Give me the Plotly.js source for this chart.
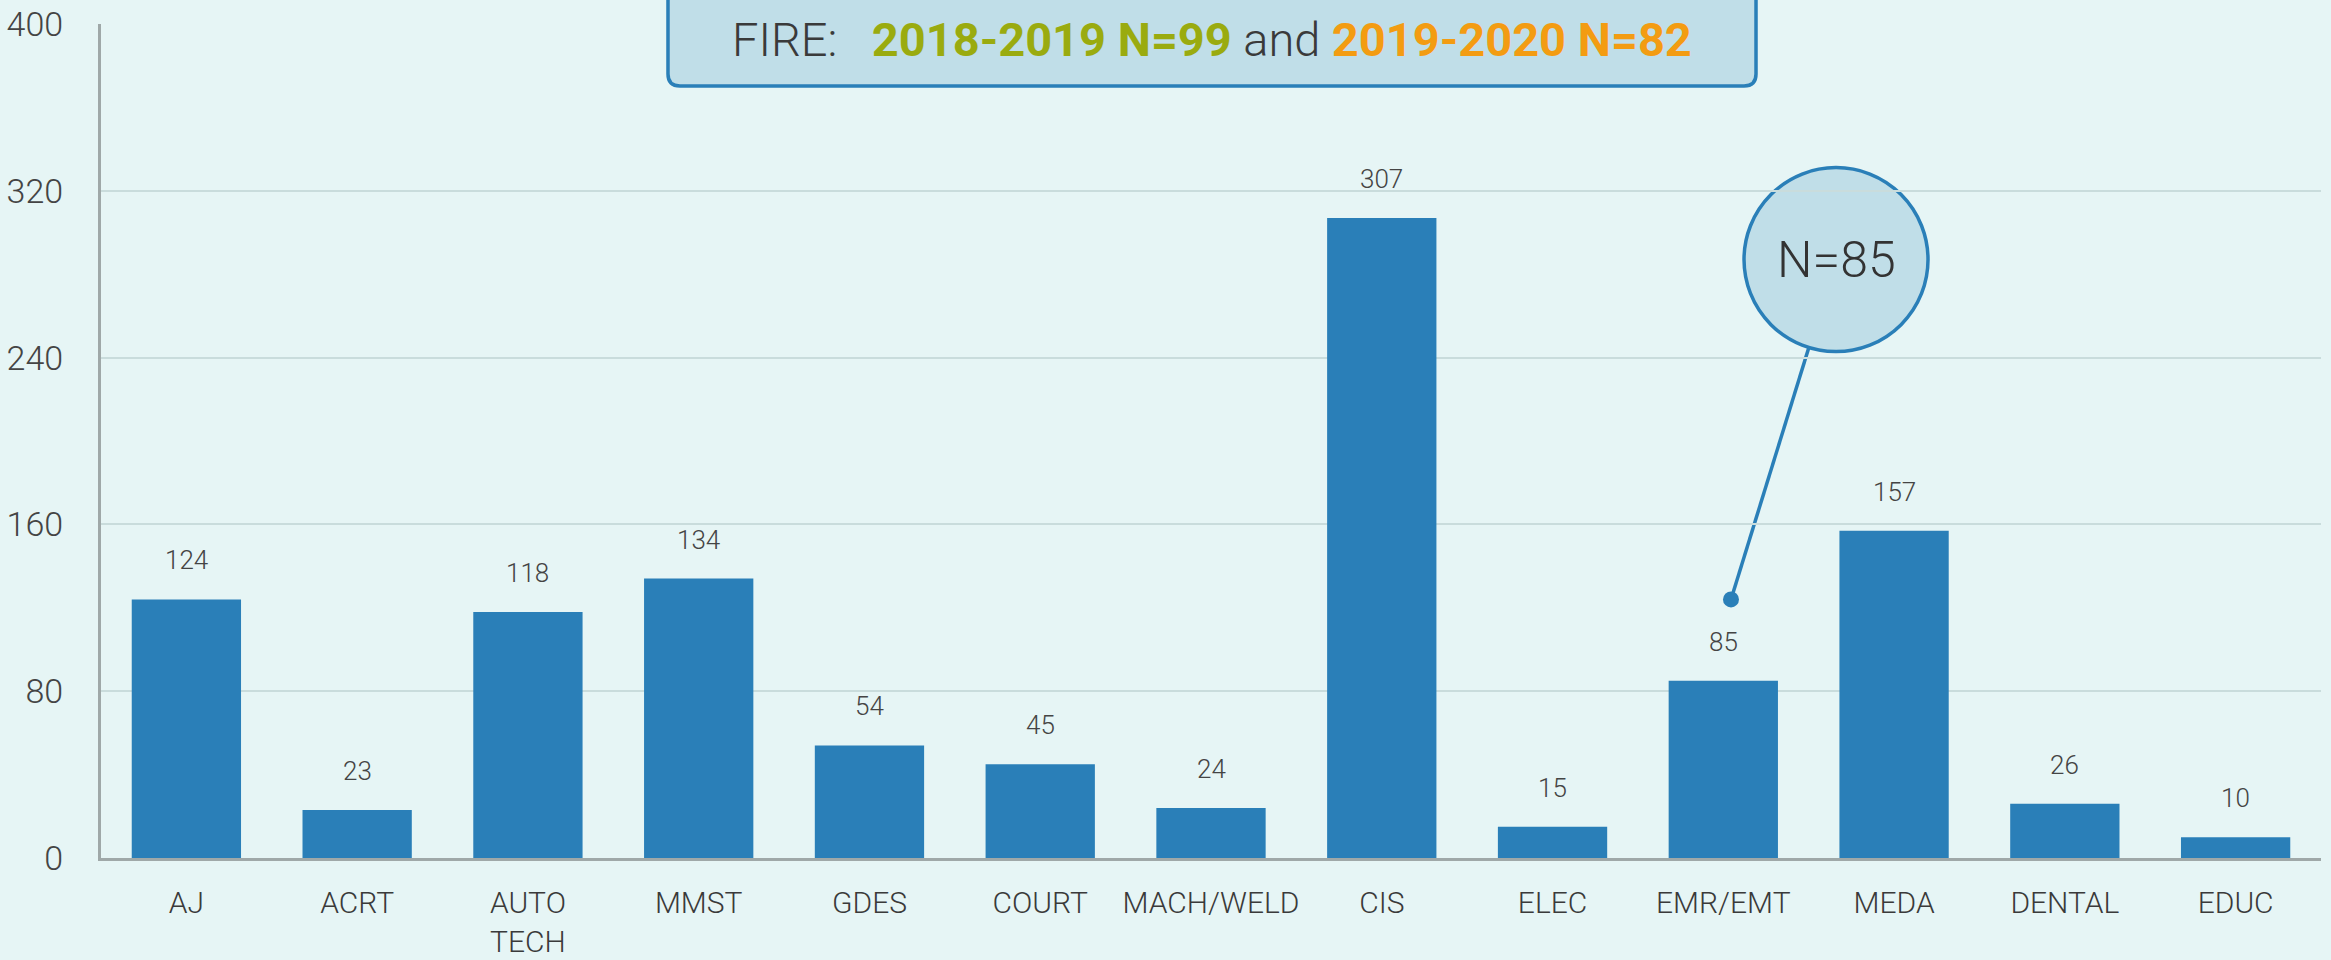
<!DOCTYPE html>
<html>
<head>
<meta charset="utf-8">
<script src="https://cdn.plot.ly/plotly-3.0.1.min.js"></script>
<style>html,body{margin:0;padding:0;background:#e6f5f5;}#chart{width:2331px;height:960px;}</style>
</head>
<body>
<div id="chart"></div>
<script>
// ---- data ----
const categories = ["AJ", "ACRT", "AUTO<br>TECH", "MMST", "GDES", "COURT", "MACH/WELD", "CIS", "ELEC", "EMR/EMT", "MEDA", "DENTAL", "EDUC"];
const values = [124, 23, 118, 134, 54, 45, 24, 307, 15, 85, 157, 26, 10];
const yTicks = [0, 80, 160, 240, 320, 400];
const titlePrefix = "FIRE:";
const titleYear1 = "2018-2019 N=99";
const titleYear2 = "2019-2020 N=82";
const calloutText = "N=85";
const calloutCategoryIndex = 9;     // EMR/EMT
const calloutDotValue = 124;
const calloutCircleValue = 287;

// ---- style ----
const bg = "#e6f5f5";
const barColor = "#2a7fb8";
const boxFill = "#c0dee8";
const textDark = "#3a3a3a";

const annotations = categories.map((c, i) => ({
  x: c, y: values[i], xref: "x", yref: "y",
  text: String(values[i]), showarrow: false,
  yanchor: "bottom", yshift: 22,
  font: {family: "Roboto", size: 26, color: "#444444", weight: 300}
}));

annotations.push({
  xref: "paper", yref: "paper", x: 0.5005, y: 0.981,
  xanchor: "center", yanchor: "middle", showarrow: false,
  text: titlePrefix + "&nbsp;&nbsp; <b><span style='color:#9aab0f'>" + titleYear1 +
        "</span></b> and <b><span style='color:#f39c12'>" + titleYear2 + "</span></b>",
  font: {family: "Roboto", size: 47, color: textDark, weight: 300}
});

const cx = calloutCategoryIndex + 0.66;
annotations.push({
  xref: "x", yref: "y", x: cx, y: calloutCircleValue,
  xanchor: "center", yanchor: "middle", showarrow: false,
  text: calloutText,
  font: {family: "Roboto", size: 50, color: "#333333", weight: 300}
});

// title box (rounded, top edge out of view)
const bx0 = 0.2554, bx1 = 0.7455, by0 = 0.9257, by1 = 1.05, rx = 0.0054, ry = 0.0144;
const boxPath = `M ${bx0},${by1} L ${bx0},${by0+ry} Q ${bx0},${by0} ${bx0+rx},${by0} L ${bx1-rx},${by0} Q ${bx1},${by0} ${bx1},${by0+ry} L ${bx1},${by1} Z`;

const shapes = [
  {type: "path", xref: "paper", yref: "paper", path: boxPath,
   fillcolor: boxFill, line: {color: barColor, width: 3.5}, layer: "below"},
  {type: "line", xref: "x", yref: "y",
   x0: calloutCategoryIndex + 0.045, y0: calloutDotValue, x1: cx, y1: calloutCircleValue,
   line: {color: barColor, width: 3.5}, layer: "below"},
  {type: "circle", xref: "x", yref: "y", xsizemode: "pixel", ysizemode: "pixel",
   xanchor: cx, yanchor: calloutCircleValue, x0: -92, x1: 92, y0: -92, y1: 92,
   fillcolor: boxFill, line: {color: barColor, width: 3.5}, layer: "below"},
  {type: "circle", xref: "x", yref: "y", xsizemode: "pixel", ysizemode: "pixel",
   xanchor: calloutCategoryIndex + 0.045, yanchor: calloutDotValue, x0: -8, x1: 8, y0: -8, y1: 8,
   fillcolor: barColor, line: {color: barColor, width: 0}, layer: "above"}
];

const trace = {
  type: "bar", x: categories, y: values,
  marker: {color: barColor}, hoverinfo: "skip"
};

const layout = {
  width: 2331, height: 960,
  margin: {l: 101, r: 10, t: 24, b: 102},
  paper_bgcolor: bg, plot_bgcolor: bg,
  bargap: 0.36,
  showlegend: false,
  xaxis: {
    type: "category", range: [-0.5, 12.5],
    showline: true, linecolor: "#9fa8a8", linewidth: 3,
    showgrid: false, zeroline: false, ticks: "",
    ticklabelstandoff: 16,
    tickfont: {family: "Roboto", size: 30, color: textDark, weight: 300}
  },
  yaxis: {
    range: [0, 400], tickvals: yTicks, ticktext: yTicks.map(String),
    showline: true, linecolor: "#9fa8a8", linewidth: 3,
    showgrid: true, gridcolor: "#c9dcdc", gridwidth: 2,
    zeroline: false, ticks: "",
    ticklabelstandoff: 28,
    tickfont: {family: "Roboto", size: 34, color: "#444444", weight: 300}
  },
  annotations: annotations,
  shapes: shapes
};

Plotly.newPlot("chart", [trace], layout, {staticPlot: true, displayModeBar: false});
</script>
</body>
</html>
